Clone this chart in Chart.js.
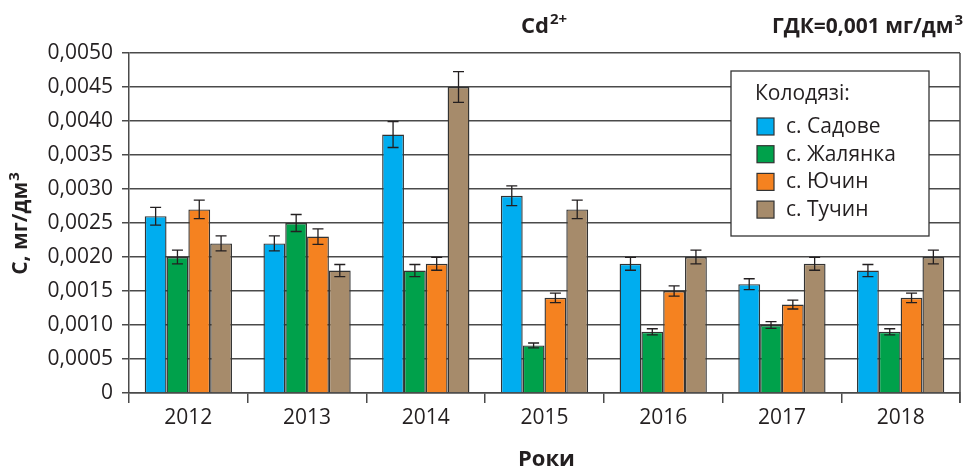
<!DOCTYPE html>
<html>
<head>
<meta charset="utf-8">
<script src="https://cdn.jsdelivr.net/npm/chart.js@4/dist/chart.umd.min.js"></script>
<style>
  html, body { margin: 0; padding: 0; background: #fff; }
  #wrap { width: 968px; height: 468px; position: relative; }
</style>
</head>
<body>
<div id="wrap"><canvas id="myChart" width="968" height="468"></canvas></div>
<script>
// years on the x axis
var years = ['2012', '2013', '2014', '2015', '2016', '2017', '2018'];

// Cd2+ concentration, mg/dm3, per well
var sadove   = [0.0026, 0.0022, 0.0038, 0.0029, 0.0019, 0.0016, 0.0018];
var zhalianka = [0.0020, 0.0025, 0.0018, 0.0007, 0.0009, 0.0010, 0.0009];
var yuchyn   = [0.0027, 0.0023, 0.0019, 0.0014, 0.0015, 0.0013, 0.0014];
var tuchyn   = [0.0022, 0.0018, 0.0045, 0.0027, 0.0020, 0.0019, 0.0020];

// error bar half-heights
var sadoveErr    = [0.00013, 0.00011, 0.00019, 0.000145, 0.000095, 0.00008, 0.00009];
var zhaliankaErr = [0.0001, 0.000125, 0.00009, 0.000035, 0.000045, 0.00005, 0.000045];
var yuchynErr    = [0.000135, 0.000115, 0.000095, 0.00007, 0.000075, 0.000065, 0.00007];
var tuchynErr    = [0.00011, 0.00009, 0.000225, 0.000135, 0.0001, 0.000095, 0.0001];

var seriesNames = ['с. Садове', 'с. Жалянка', 'с. Ючин', 'с. Тучин'];
var colors = ['#00adef', '#00a14b', '#f58220', '#a68b6b'];

var FONT = '"Open Sans", "Noto Sans", sans-serif';
var TXT = '#231f20';
var LINE = '#4a4a4a';

// draw text with a superscript tail
function supText(ctx, base, sup, x, y, size, align) {
  var ss = Math.round(size * 0.7);
  ctx.font = 'bold ' + size + 'px ' + FONT;
  var w1 = ctx.measureText(base).width;
  ctx.font = 'bold ' + ss + 'px ' + FONT;
  var w2 = ctx.measureText(sup).width;
  var start = align === 'right' ? x - w1 - w2 : (align === 'center' ? x - (w1 + w2) / 2 : x);
  ctx.textAlign = 'left';
  ctx.textBaseline = 'alphabetic';
  ctx.font = 'bold ' + size + 'px ' + FONT;
  ctx.fillText(base, start, y);
  ctx.font = 'bold ' + ss + 'px ' + FONT;
  ctx.fillText(sup, start + w1 + 1, y - size * 0.4);
}

var errorBars = {
  id: 'errorBars',
  afterDatasetsDraw: function (chart) {
    var ctx = chart.ctx, y = chart.scales.y;
    ctx.save();
    ctx.strokeStyle = '#231f20';
    ctx.lineWidth = 1.3;
    chart.data.datasets.forEach(function (ds, i) {
      var meta = chart.getDatasetMeta(i);
      meta.data.forEach(function (bar, j) {
        var v = ds.data[j], e = ds.errors[j];
        var top = y.getPixelForValue(v + e), bot = y.getPixelForValue(v - e);
        var x = bar.x, cap = 5.5;
        ctx.beginPath();
        ctx.moveTo(x, top); ctx.lineTo(x, bot);
        ctx.moveTo(x - cap, top); ctx.lineTo(x + cap, top);
        ctx.moveTo(x - cap, bot); ctx.lineTo(x + cap, bot);
        ctx.stroke();
      });
    });
    ctx.restore();
  }
};

var decorations = {
  id: 'decorations',
  afterDraw: function (chart) {
    var ctx = chart.ctx, a = chart.chartArea;
    ctx.save();
    // right border of the plot
    ctx.strokeStyle = LINE;
    ctx.lineWidth = 1.5;
    ctx.beginPath();
    ctx.moveTo(a.right, a.top);
    ctx.lineTo(a.right, a.bottom + 10);
    ctx.stroke();

    // legend box
    var bx = a.right - 229, by = a.top + 18, bw = 198, bh = 165;
    ctx.fillStyle = '#fff';
    ctx.fillRect(bx, by, bw, bh);
    ctx.strokeStyle = '#333';
    ctx.lineWidth = 1.3;
    ctx.strokeRect(bx, by, bw, bh);
    ctx.fillStyle = TXT;
    ctx.font = '21px ' + FONT;
    ctx.textAlign = 'left';
    ctx.textBaseline = 'middle';
    ctx.fillText('Колодязі:', bx + 24, by + 23);
    chart.data.datasets.forEach(function (ds, i) {
      var cy = by + 55 + i * 27.7;
      ctx.fillStyle = ds.backgroundColor;
      ctx.fillRect(bx + 26, cy - 8, 17, 17);
      ctx.strokeStyle = '#333';
      ctx.lineWidth = 1.2;
      ctx.strokeRect(bx + 26, cy - 8, 17, 17);
      ctx.fillStyle = TXT;
      ctx.fillText(ds.label, bx + 55, cy + 1);
    });

    // titles
    ctx.fillStyle = TXT;
    supText(ctx, 'Cd', '2+', 521, 33, 22, 'left');
    supText(ctx, 'ГДК=0,001 мг/дм', '3', 962, 33, 21, 'right');

    ctx.font = 'bold 22px ' + FONT;
    ctx.textAlign = 'center';
    ctx.textBaseline = 'alphabetic';
    ctx.fillText('Роки', (a.left + a.right) / 2 + 2, 466);

    ctx.translate(27, 224);
    ctx.rotate(-Math.PI / 2);
    supText(ctx, 'С, мг/дм', '3', 0, 0, 21, 'center');
    ctx.restore();
  }
};

function makeSet(i, data, errs) {
  return {
    label: seriesNames[i],
    data: data,
    errors: errs,
    backgroundColor: colors[i],
    borderColor: '#333',
    borderWidth: 1.4,
    barPercentage: 1.0,
    categoryPercentage: 0.735
  };
}

var ctx = document.getElementById('myChart').getContext('2d');
var myChart = new Chart(ctx, {
  type: 'bar',
  data: {
    labels: years,
    datasets: [
      makeSet(0, sadove, sadoveErr),
      makeSet(1, zhalianka, zhaliankaErr),
      makeSet(2, yuchyn, yuchynErr),
      makeSet(3, tuchyn, tuchynErr)
    ]
  },
  options: {
    responsive: false,
    animation: false,
    layout: { padding: { top: 53, right: 8, left: 0, bottom: 0 } },
    plugins: {
      legend: { display: false },
      tooltip: { enabled: false }
    },
    scales: {
      x: {
        offset: true,
        grid: { drawOnChartArea: false, drawTicks: true, tickLength: 10, color: LINE, lineWidth: 1.5, offset: true },
        border: { color: LINE, width: 1.5 },
        ticks: { color: TXT, font: { family: FONT, size: 21 }, padding: 2 },
        afterFit: function (scale) { scale.height = 75; }
      },
      y: {
        min: 0,
        max: 0.005,
        grid: { color: LINE, lineWidth: 1.5, tickLength: 7 },
        border: { color: LINE, width: 1.5 },
        ticks: {
          stepSize: 0.0005,
          color: TXT,
          font: { family: FONT, size: 21 },
          padding: 9,
          callback: function (v) { return v === 0 ? '0' : v.toFixed(4).replace('.', ','); }
        },
        afterFit: function (scale) { scale.width = 129; }
      }
    }
  },
  plugins: [errorBars, decorations]
});
</script>
</body>
</html>
